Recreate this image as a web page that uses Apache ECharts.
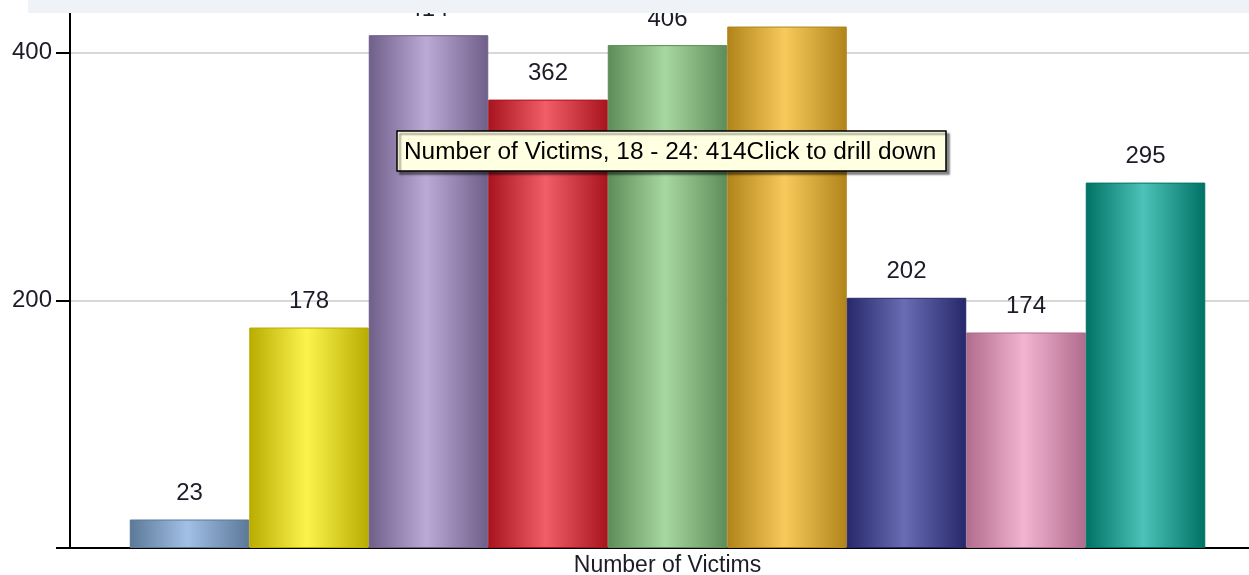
<!DOCTYPE html>
<html>
<head>
<meta charset="utf-8">
<script src="https://cdn.jsdelivr.net/npm/echarts@6/dist/echarts.min.js"></script>
<style>
html, body { margin: 0; padding: 0; background: #fff; }
#chart { width: 1249px; height: 575px; }
</style>
</head>
<body>
<div id="chart"></div>
<script>
// data
var category = ['Number of Victims'];
var ageGroups = ['Under 12', '12 - 17', '18 - 24', '25 - 34', '35 - 44', '45 - 54', '55 - 64', '65 +', 'Unknown'];
var victims = [23, 178, 414, 362, 406, 421, 202, 174, 295];
var yTicks = [200, 400];
// edge / centre colours of each cylinder bar
var edgeColors = ['#5b7898', '#b8ac00', '#6e5e88', '#a8141e', '#5e8c58', '#b0841a', '#26286a', '#b06c8c', '#007264'];
var midColors  = ['#a2c0e6', '#fcf44e', '#bcaad6', '#f25e68', '#a8d8a2', '#f8ca5c', '#6a6cb4', '#f2b4d2', '#4cc2b8'];
var hoverIndex = 2;

var series = ageGroups.map(function (name, i) {
  return {
    name: name,
    type: 'bar',
    barGap: '0%',
    barCategoryGap: '10%',
    data: [victims[i]],
    itemStyle: {
      color: new echarts.graphic.LinearGradient(0, 0, 1, 0, [
        {offset: 0, color: edgeColors[i]},
        {offset: 0.48, color: midColors[i]},
        {offset: 1, color: edgeColors[i]}
      ]),
      borderColor: edgeColors[i],
      borderWidth: 1
    },
    label: {
      show: true,
      position: 'top',
      distance: 14,
      fontSize: 24,
      fontFamily: 'Liberation Sans',
      color: '#1c1c28'
    },
    emphasis: {disabled: true}
  };
});

var chart = echarts.init(document.getElementById('chart'));
chart.setOption({
  animation: false,
  grid: {left: 70, top: 3, width: 1195, bottom: 27, outerBoundsMode: 'none', containLabel: false},
  xAxis: {
    type: 'category',
    data: category,
    axisLine: {lineStyle: {color: '#000', width: 2}},
    axisTick: {show: false},
    axisLabel: {margin: 6, fontSize: 23, fontFamily: 'Liberation Sans', color: '#1c1c28'}
  },
  yAxis: {
    type: 'value',
    min: 0,
    max: 440,
    interval: 200,
    axisLine: {show: true, lineStyle: {color: '#000', width: 2}},
    axisTick: {show: true, length: 14, lineStyle: {color: '#000', width: 2}},
    axisLabel: {
      margin: 18, fontSize: 24, fontFamily: 'Liberation Sans', color: '#1c1c28',
      showMinLabel: false, showMaxLabel: false,
      formatter: function (v) { return yTicks.indexOf(v) >= 0 ? String(v) : ''; }
    },
    splitLine: {lineStyle: {color: '#d8d8d8', width: 2}}
  },
  series: series
});

// zero tick, header strip and the hover tooltip box
var zero = chart.convertToPixel({gridIndex: 0}, [0, 0]);
chart.setOption({
  graphic: [
    {
      type: 'line', z: 50,
      shape: {x1: 56, y1: zero[1], x2: 72, y2: zero[1]},
      style: {stroke: '#000', lineWidth: 2}
    },
    {
      type: 'rect', z: 100,
      shape: {x: 28, y: 0, width: 1221, height: 13},
      style: {fill: '#eff3f7'}
    },
    {
      type: 'rect', z: 100,
      shape: {x: 397, y: 131, width: 549, height: 40},
      style: {fill: '#ffffe1', stroke: '#000', lineWidth: 1.5,
        shadowColor: 'rgba(0,0,0,0.45)', shadowOffsetX: 3, shadowOffsetY: 3, shadowBlur: 2}
    },
    {
      type: 'text', z: 101,
      x: 404, y: 152,
      style: {
        text: category[0] + ', ' + ageGroups[hoverIndex] + ': ' + victims[hoverIndex] + 'Click to drill down',
        fontSize: 24.4, fontFamily: 'Liberation Sans', fill: '#000',
        verticalAlign: 'middle'
      }
    }
  ]
});
</script>
</body>
</html>
